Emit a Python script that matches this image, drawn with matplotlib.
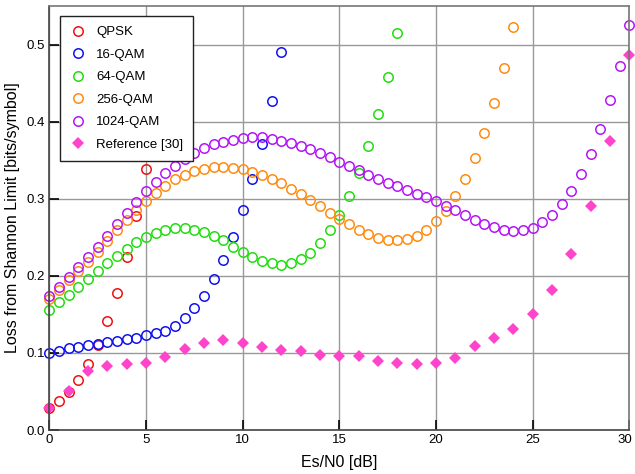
import numpy as np
import matplotlib
matplotlib.use("Agg")
import matplotlib.pyplot as plt
import matplotlib.transforms as mtransforms

plt.rcParams['font.family'] = ['Liberation Sans', 'DejaVu Sans']

# ---- data ----
x_qpsk = np.arange(0, 5.01, 0.5)
qpsk = [0.028, 0.037, 0.049, 0.065, 0.085, 0.110, 0.141, 0.178, 0.224, 0.277, 0.339]

x_16 = np.arange(0, 12.01, 0.5)
qam16 = [0.100, 0.103, 0.106, 0.108, 0.110, 0.112, 0.114, 0.116, 0.118, 0.120,
         0.123, 0.126, 0.129, 0.135, 0.145, 0.158, 0.174, 0.196, 0.221, 0.250,
         0.285, 0.325, 0.371, 0.427, 0.490]

x_64 = np.arange(0, 18.01, 0.5)
qam64 = [0.156, 0.166, 0.175, 0.185, 0.196, 0.206, 0.216, 0.226, 0.235, 0.244,
         0.251, 0.256, 0.260, 0.262, 0.262, 0.260, 0.257, 0.252, 0.246, 0.238,
         0.231, 0.225, 0.219, 0.216, 0.214, 0.216, 0.222, 0.230, 0.242, 0.259,
         0.279, 0.304, 0.334, 0.369, 0.410, 0.458, 0.515]

x_256 = np.arange(0, 24.01, 0.5)
qam256 = [0.170, 0.181, 0.194, 0.206, 0.218, 0.231, 0.245, 0.259, 0.273, 0.286,
          0.297, 0.307, 0.317, 0.325, 0.331, 0.336, 0.339, 0.341, 0.341, 0.340,
          0.339, 0.335, 0.331, 0.326, 0.320, 0.313, 0.306, 0.298, 0.290, 0.282,
          0.274, 0.267, 0.260, 0.254, 0.249, 0.247, 0.246, 0.248, 0.252, 0.259,
          0.271, 0.284, 0.303, 0.326, 0.353, 0.385, 0.424, 0.469, 0.523]

x_1024 = np.arange(0, 30.01, 0.5)
qam1024 = [0.174, 0.186, 0.199, 0.212, 0.225, 0.238, 0.252, 0.267, 0.282, 0.296,
           0.310, 0.322, 0.333, 0.343, 0.352, 0.359, 0.366, 0.371, 0.374, 0.376,
           0.379, 0.380, 0.380, 0.377, 0.375, 0.372, 0.369, 0.365, 0.359, 0.354,
           0.348, 0.343, 0.337, 0.331, 0.325, 0.320, 0.316, 0.311, 0.306, 0.302,
           0.297, 0.291, 0.285, 0.279, 0.273, 0.267, 0.263, 0.260, 0.258, 0.259,
           0.262, 0.270, 0.279, 0.293, 0.310, 0.332, 0.358, 0.390, 0.428, 0.472,
           0.525]

x_ref = np.arange(0, 31, 1)
ref30 = [0.028, 0.050, 0.076, 0.083, 0.085, 0.087, 0.095, 0.105, 0.113, 0.117,
         0.113, 0.108, 0.104, 0.102, 0.097, 0.096, 0.096, 0.090, 0.087, 0.086,
         0.087, 0.094, 0.109, 0.119, 0.131, 0.151, 0.181, 0.228, 0.290, 0.375,
         0.487]

xticks = [0, 5, 10, 15, 20, 25, 30]
yticks = [0.0, 0.1, 0.2, 0.3, 0.4, 0.5]

# ---- figure ----
fig = plt.figure(figsize=(6.35, 4.74), dpi=100)
ax = fig.add_axes([0.0776, 0.0928, 0.9137, 0.8945])

circ = dict(linestyle='none', marker='o', markersize=6.8, markerfacecolor='none',
            markeredgewidth=1.1, clip_on=False)
ax.plot(x_qpsk, qpsk, markeredgecolor='#ee1111', label='QPSK', **circ)
ax.plot(x_16, qam16, markeredgecolor='#1111ee', label='16-QAM', **circ)
ax.plot(x_64, qam64, markeredgecolor='#22dd11', label='64-QAM', **circ)
ax.plot(x_256, qam256, markeredgecolor='#ff8c10', label='256-QAM', **circ)
ax.plot(x_1024, qam1024, markeredgecolor='#b316f5', label='1024-QAM', **circ)
ax.plot(x_ref, ref30, linestyle='none', marker='D', markersize=6.5,
        color='#ff44cc', markeredgewidth=0, label='Reference [30]', clip_on=False)

ax.set_xlim(0, 30)
ax.set_ylim(0, 0.55)
ax.set_xticks(xticks)
ax.set_yticks(yticks)
ax.set_yticklabels([f"{v:.1f}" for v in yticks])
ax.grid(True, color='#999999', linewidth=1.0)
ax.set_axisbelow(True)
ax.tick_params(direction='in', length=7, width=1.2, color='black',
               labelsize=9.5, pad=3)
for s in ax.spines.values():
    s.set_color('#777777')
    s.set_linewidth(1.2)
ax.spines['left'].set_color('#444444')
ax.spines['bottom'].set_color('#444444')

# keep the last x tick label inside the figure
last = ax.get_xticklabels()[-1]
last.set_transform(last.get_transform() +
                   mtransforms.ScaledTranslation(-5 / 100, 0, fig.dpi_scale_trans))

ax.set_xlabel('Es/N0 [dB]', fontsize=11.5, labelpad=6)
ax.set_ylabel('Loss from Shannon Limit [bits/symbol]', fontsize=11.5, labelpad=5)

leg = ax.legend(loc='upper left', bbox_to_anchor=(0.0184, 0.976), borderaxespad=0,
                fancybox=False, framealpha=1, edgecolor='#222222', fontsize=9.5,
                labelspacing=0.78, handletextpad=0.7, borderpad=0.75,
                handlelength=1.3)
leg.get_frame().set_linewidth(1.0)

fig.savefig('out.png', dpi=100)
